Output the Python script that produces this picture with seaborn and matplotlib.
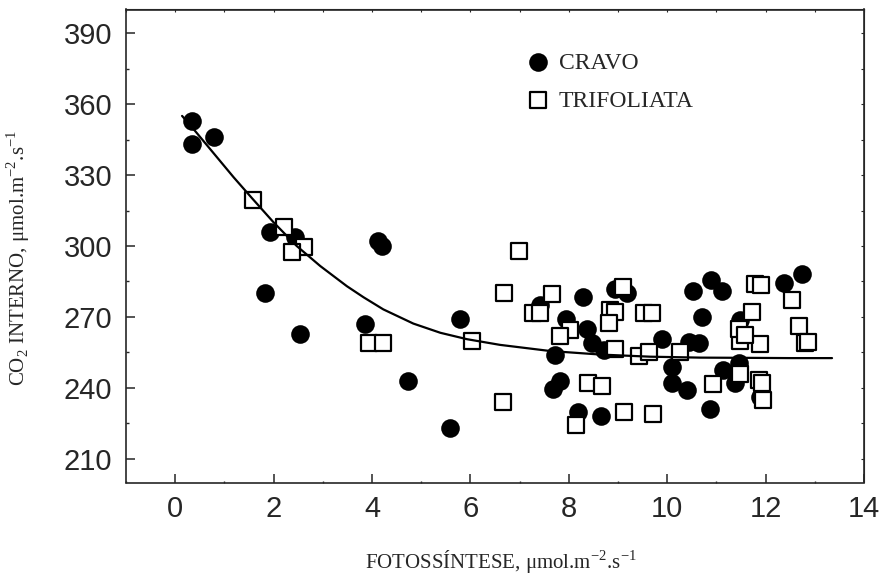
import matplotlib
matplotlib.use("Agg")
import pandas as pd
import matplotlib.pyplot as plt
import seaborn as sns
from matplotlib.ticker import MultipleLocator

# CO2 interno vs fotossintese
cravo_x = [0.34, 0.34, 0.78, 1.93, 2.44, 1.82, 2.54, 4.12, 4.21, 3.86,
           4.74, 5.79, 5.59, 7.41, 8.28, 8.94, 9.18, 7.95, 8.38, 8.47,
           8.71, 7.72, 9.89, 10.1, 10.1, 7.83, 7.68, 8.18, 8.65, 10.53,
           10.89, 11.12, 12.38, 12.74, 10.71, 11.48, 10.45, 10.64, 10.40, 11.14,
           11.45, 11.38, 10.86, 11.89]
cravo_y = [353, 343, 346, 306, 304, 280, 263, 302, 300, 267,
           243, 269, 223, 275, 278.5, 282, 280, 269, 265, 259,
           256, 254, 260.5, 249, 242, 243, 239.5, 230, 228, 281,
           285.5, 281, 284.5, 288, 270, 268.5, 259.5, 259, 239, 247.5,
           250.5, 242, 231, 236]

trif_x = [1.58, 2.22, 2.62, 2.38, 3.94, 4.23, 6.03, 6.98, 6.69, 7.66,
          9.11, 7.28, 7.42, 8.03, 7.83, 8.84, 8.94, 8.81, 9.52, 9.70,
          8.93, 9.42, 9.64, 8.40, 8.67, 6.67, 9.13, 9.71, 8.14, 11.79,
          11.90, 12.53, 11.72, 12.67, 11.48, 11.88, 11.45, 11.59, 12.80, 12.87,
          10.25, 10.94, 11.48, 11.86, 11.92, 11.94]
trif_y = [319.5, 308, 299.5, 297.5, 259, 259, 260, 298, 280, 279.5,
          282.5, 271.5, 271.5, 264.5, 262, 273, 272, 267.5, 271.5, 271.5,
          256.5, 253.5, 255, 242, 241, 234, 230, 229, 224.5, 284,
          283.5, 277, 272, 266, 260, 258.5, 265, 262.5, 259, 259.5,
          255, 241.5, 246, 243.5, 242, 235]

# fitted curve
curve_x = [0.14, 0.37, 0.85, 1.19, 1.57, 2.0, 2.47, 2.95, 3.49, 3.83, 4.23,
           4.84, 5.39, 5.93, 6.6, 7.62, 8.64, 9.65, 10.67, 11.7, 12.5, 13.35]
curve_y = [355, 349.5, 337.5, 329, 320, 310, 300, 291.5, 283, 278.3, 273.2,
           267.2, 263.3, 260.6, 258.2, 255.6, 254.1, 253.2, 252.8, 252.7, 252.6, 252.6]

xticks = [0, 2, 4, 6, 8, 10, 12, 14]
yticks = [210, 240, 270, 300, 330, 360, 390]

sns.set_style("ticks")
plt.rcParams['font.family'] = ['Liberation Sans', 'DejaVu Sans']
SERIF = ['Liberation Serif', 'DejaVu Serif']

df_c = pd.DataFrame({'x': cravo_x, 'y': cravo_y})
df_t = pd.DataFrame({'x': trif_x, 'y': trif_y})
df_f = pd.DataFrame({'x': curve_x, 'y': curve_y})

fig = plt.figure(figsize=(8.84, 5.77), dpi=100)
ax = fig.add_axes([126 / 884, 1 - 482.5 / 577, 738 / 884, 473 / 577])

sns.scatterplot(data=df_c, x='x', y='y', marker='o', s=180, color='black',
                edgecolor='black', linewidth=0, label='CRAVO', ax=ax, zorder=2)
sns.scatterplot(data=df_t, x='x', y='y', marker='s', s=135, facecolor='white',
                edgecolor='black', linewidth=1.6, label='TRIFOLIATA', ax=ax, zorder=3)
sns.lineplot(data=df_f, x='x', y='y', color='black', lw=1.6, ax=ax, zorder=4)

ax.set_xlim(-1, 14)
ax.set_ylim(200, 400)
ax.set_xticks(xticks)
ax.set_yticks(yticks)
ax.xaxis.set_minor_locator(MultipleLocator(1))
ax.yaxis.set_minor_locator(MultipleLocator(15))
ax.tick_params(which='major', direction='in', length=6.5, width=1.1, labelsize=21)
ax.tick_params(which='minor', direction='in', length=1.8, width=1.0)
ax.tick_params(axis='x', which='major', pad=9)
ax.tick_params(axis='y', which='major', pad=10)

for side in ['top', 'right', 'left', 'bottom']:
    ax.spines[side].set_linewidth(1.2)

top = ax.secondary_xaxis('top')
top.xaxis.set_major_locator(MultipleLocator(1))
top.tick_params(direction='in', length=2, width=0.8, labeltop=False)
right = ax.secondary_yaxis('right')
right.yaxis.set_major_locator(MultipleLocator(15))
right.tick_params(direction='in', length=2, width=0.8, labelright=False)

ax.set_xlabel(r'FOTOSSÍNTESE, $\mathregular{\mu}$mol.m$^{\mathregular{-2}}$.s$^{\mathregular{-1}}$',
              family=SERIF, fontsize=15)
ax.set_ylabel(r'CO$_{\mathregular{2}}$ INTERNO, $\mathregular{\mu}$mol.m$^{\mathregular{-2}}$.s$^{\mathregular{-1}}$',
              family=SERIF, fontsize=15)
ax.xaxis.set_label_coords(0.508, -0.14)
ax.yaxis.set_label_coords(-0.127, 0.475)

ax.legend(loc='upper left', bbox_to_anchor=(0.526, 0.935), frameon=False,
          prop={'family': SERIF, 'size': 17}, handlelength=1.0,
          handletextpad=0.4, labelspacing=0.7, borderpad=0)

plt.savefig("out.png", dpi=100)
plt.close()
